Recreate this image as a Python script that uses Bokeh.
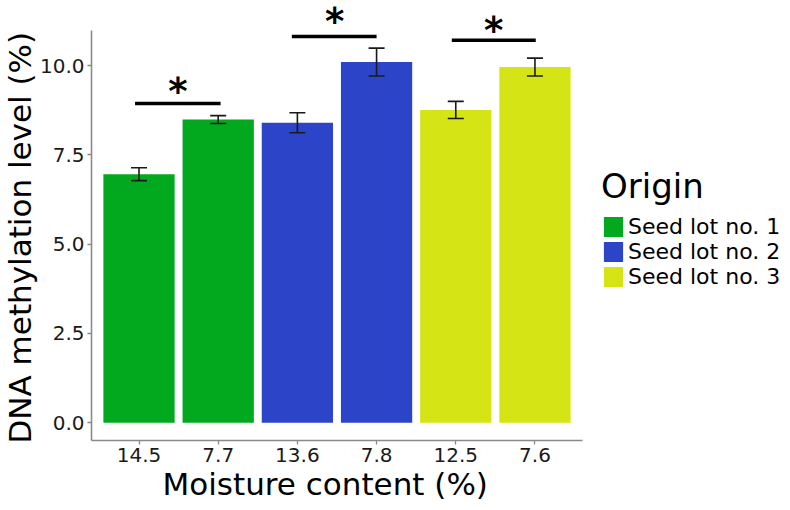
from bokeh.plotting import figure
from bokeh.models import (ColumnDataSource, Range1d, FixedTicker, Whisker, TeeHead,
                          PrintfTickFormatter, Title)
from bokeh.core.properties import value
from bokeh.embed import file_html
from bokeh.resources import INLINE

# ---- data ----
moisture = ["14.5", "7.7", "13.6", "7.8", "12.5", "7.6"]
origin = ["Seed lot no. 1", "Seed lot no. 1", "Seed lot no. 2",
          "Seed lot no. 2", "Seed lot no. 3", "Seed lot no. 3"]
methylation = [6.96, 8.49, 8.40, 10.10, 8.76, 9.96]
std_err = [0.18, 0.11, 0.28, 0.39, 0.24, 0.25]
lot_names = ["Seed lot no. 1", "Seed lot no. 2", "Seed lot no. 3"]
lot_colors = ["#02A81E", "#2C44C8", "#D5E414"]

# significance brackets (bar-position units / methylation units)
sig_start = [0.95, 2.93, 4.95]
sig_end = [2.03, 4.00, 6.01]
sig_level = [8.94, 10.82, 10.71]
star_x = [1.49, 3.47, 5.48]
star_y = [9.37, 11.32, 11.07]
star_text = ["*", "*", "*"]

y_ticks = [0, 2.5, 5, 7.5, 10]

FONT = "DejaVu Sans"

positions = list(range(1, len(moisture) + 1))
color_of = dict(zip(lot_names, lot_colors))
source = ColumnDataSource(dict(
    x=positions,
    top=methylation,
    upper=[m + s for m, s in zip(methylation, std_err)],
    lower=[m - s for m, s in zip(methylation, std_err)],
    origin=origin,
    color=[color_of[o] for o in origin],
))

p = figure(frame_width=691, frame_height=440,
           x_range=Range1d(0.4, 9.126), y_range=Range1d(-0.5, 11.825),
           output_backend="svg", toolbar_location=None,
           min_border_left=83, min_border_right=0,
           min_border_top=0, min_border_bottom=62,
           background_fill_color="white", border_fill_color="white")
p.outline_line_color = None
p.xgrid.visible = False
p.ygrid.visible = False

p.vbar(x="x", top="top", bottom=0, width=0.9, source=source,
       fill_color="color", line_color=None, legend_field="origin")

whisk = Whisker(base="x", upper="upper", lower="lower", source=source,
                line_color="#1a1a1a", line_width=1.6, level="annotation",
                upper_head=TeeHead(size=16, line_color="#1a1a1a", line_width=1.6),
                lower_head=TeeHead(size=16, line_color="#1a1a1a", line_width=1.6))
p.add_layout(whisk)

p.segment(x0=sig_start, x1=sig_end, y0=sig_level, y1=sig_level,
          line_color="black", line_width=3.5)
p.text(x=star_x, y=star_y, text=star_text, text_font=value(FONT),
       text_font_style="bold", text_font_size="37px", text_align="center",
       text_baseline="middle", y_offset=3, text_color="black")

# axes
for ax in (p.xaxis[0], p.yaxis[0]):
    ax.axis_line_color = "#8a8a8a"
    ax.axis_line_width = 1.6
    ax.major_tick_line_color = "#8a8a8a"
    ax.major_tick_line_width = 1.3
    ax.major_tick_in = 0
    ax.major_tick_out = 4
    ax.minor_tick_line_color = None
    ax.major_label_text_font = FONT
    ax.major_label_text_font_size = "20px"
    ax.major_label_text_color = "#1a1a1a"
    ax.major_label_standoff = 3

p.xaxis.ticker = FixedTicker(ticks=positions)
p.xaxis.major_label_overrides = {pos: lab for pos, lab in zip(positions, moisture)}
p.xaxis.bounds = (0.4, 6.6)

p.yaxis.ticker = FixedTicker(ticks=y_ticks)
p.yaxis.formatter = PrintfTickFormatter(format="%.1f")
p.yaxis.bounds = (-0.5, 10.98)

ytitle = Title(text="DNA methylation level (%)", align="left", offset=-3,
               standoff=-2.5, text_font=FONT, text_font_size="31px",
               text_font_style="normal", text_color="black")
p.add_layout(ytitle, "left")
xtitle = Title(text="Moisture content (%)", align="left", offset=71,
               standoff=-2, text_font=FONT, text_font_size="31px",
               text_font_style="normal", text_color="black")
p.add_layout(xtitle, "below")

leg = p.legend[0]
leg.location = (510, 151)
leg.title = "Origin"
leg.title_text_font = FONT
leg.title_text_font_size = "34px"
leg.title_text_font_style = "normal"
leg.title_text_color = "black"
leg.title_standoff = 8
leg.label_text_font = FONT
leg.label_text_font_size = "22px"
leg.label_text_color = "black"
leg.glyph_width = 24
leg.glyph_height = 25
leg.label_height = 25
leg.label_standoff = 3
leg.spacing = 0
leg.padding = 0
leg.margin = 0
leg.border_line_color = None
leg.background_fill_alpha = 0

open("out.html", "w").write(file_html(p, INLINE))
